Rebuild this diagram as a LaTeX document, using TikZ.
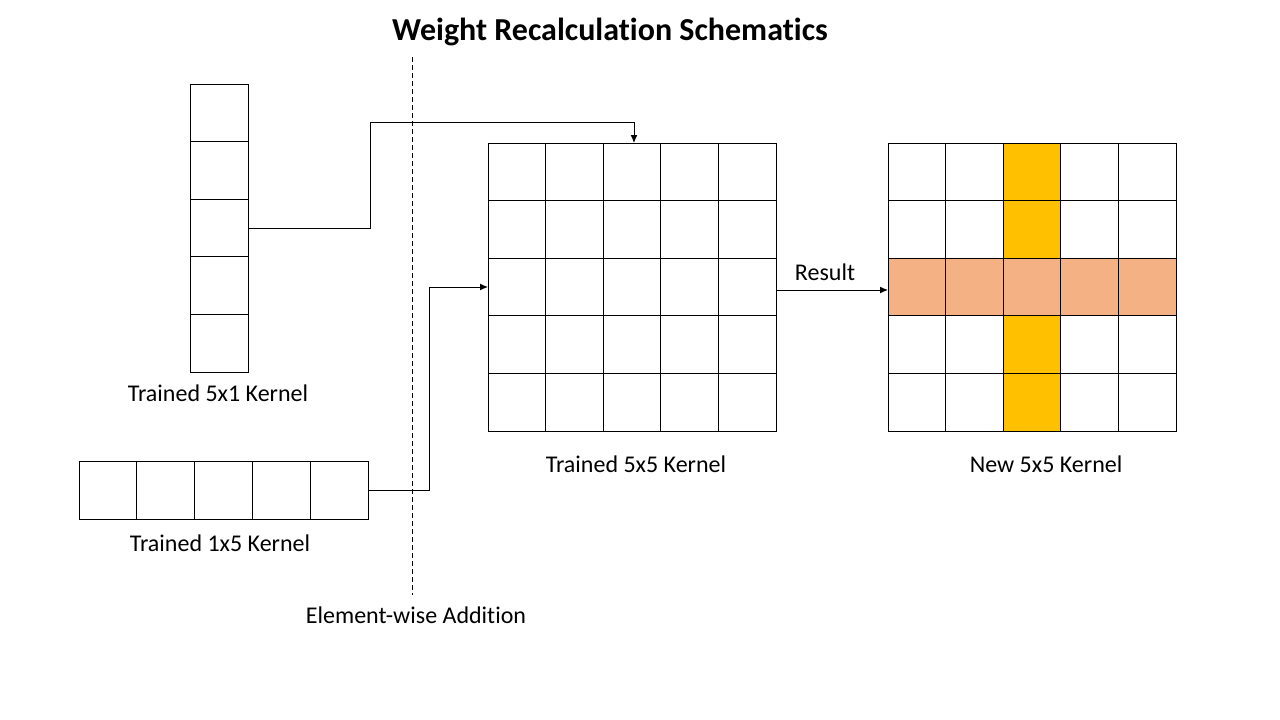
\documentclass[tikz,border=0pt]{standalone}
\usepackage{fontspec}
\setmainfont{Carlito}[Ligatures=CommonOff]
\usepackage{tikz}
\usetikzlibrary{calc,arrows.meta}

\definecolor{CrossYellow}{HTML}{FFC000}
\definecolor{CrossOrange}{HTML}{F4B183}

\begin{document}
\begin{tikzpicture}[x=1pt, y=-1pt,
	kernel/.style={draw, line width=1pt, inner sep=0pt, outer sep=0pt},
	cell/.style={line width=1pt},
	conn/.style={line width=1pt, -{Latex[length=8pt,width=7pt]}},
	lbl/.style={font=\fontsize{24}{28}\selectfont, inner sep=0pt}]
	\useasboundingbox (0,0) rectangle (1280,720);

	\node[font=\bfseries\fontsize{32}{38}\selectfont, inner sep=0pt] (title) at (610,32) {Weight Recalculation Schematics};

	% kernels
	\node[kernel, minimum width=58pt, minimum height=288pt] (k51) at (219,228) {};
	\node[kernel, minimum width=289pt, minimum height=58pt] (k15) at (223.5,490) {};
	\node[kernel, minimum width=288pt, minimum height=288pt] (k55) at (632,287) {};
	\node[kernel, minimum width=288pt, minimum height=288pt] (knew) at (1032,287) {};

	\fill[CrossYellow] ($(knew.north west)!0.4!(knew.north east)$) rectangle ($(knew.south west)!0.6!(knew.south east)$);
	\fill[CrossOrange] ($(knew.north west)!0.4!(knew.south west)$) rectangle ($(knew.north east)!0.6!(knew.south east)$);
	\draw[cell] (knew.north west) rectangle (knew.south east);

	\foreach \i in {1,...,4} {
		\draw[cell] ($(k51.north west)!\i/5!(k51.south west)$) -- ($(k51.north east)!\i/5!(k51.south east)$);
		\draw[cell] ($(k15.north west)!\i/5!(k15.north east)$) -- ($(k15.south west)!\i/5!(k15.south east)$);
		\draw[cell] ($(k55.north west)!\i/5!(k55.south west)$) -- ($(k55.north east)!\i/5!(k55.south east)$);
		\draw[cell] ($(k55.north west)!\i/5!(k55.north east)$) -- ($(k55.south west)!\i/5!(k55.south east)$);
		\draw[cell] ($(knew.north west)!\i/5!(knew.south west)$) -- ($(knew.north east)!\i/5!(knew.south east)$);
		\draw[cell] ($(knew.north west)!\i/5!(knew.north east)$) -- ($(knew.south west)!\i/5!(knew.south east)$);
	}

	% labels
	\node[lbl] (l51) at (218,393) {Trained 5x1 Kernel};
	\node[lbl] (l15) at (220,543) {Trained 1x5 Kernel};
	\node[lbl] (l55) at (636,464) {Trained 5x5 Kernel};
	\node[lbl] (lnew) at (1046,464) {New 5x5 Kernel};
	\node[lbl] (ladd) at (416,615) {Element-wise Addition};

	% dashed divider
	\draw[line width=1pt, dash pattern=on 5pt off 3pt] (412,57) -- (412,595);

	% connectors
	\draw[conn] (k51.east) -- ++(122,0) |- ($(k55.north)+(2,-21)$) -- ($(k55.north)+(2,0)$);
	\draw[conn] (k15.east) -- ++(61,0) |- (k55.west);
	\draw[conn] ($(k55.east)+(0,3)$) -- node[lbl, above=9pt, xshift=-7pt] (lres) {Result} ($(knew.west)+(0,3)$);

\end{tikzpicture}
\end{document}
